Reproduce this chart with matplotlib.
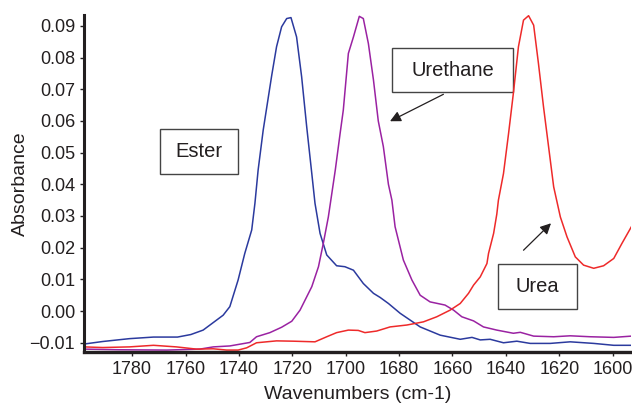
import matplotlib
matplotlib.use("Agg")
import matplotlib.pyplot as plt
from matplotlib.patches import Rectangle
from matplotlib.ticker import FuncFormatter

# Ester (blue) trace
ester_wn = [1798, 1791, 1781, 1772, 1763, 1758, 1753.4, 1745.9, 1743.4, 1740.3,
            1737.8, 1735.2, 1734.0, 1732.8, 1730.9, 1727.7, 1725.9, 1724.0, 1722.1,
            1720.5, 1718.4, 1716.5, 1714.6, 1712.7, 1711.5, 1709.6, 1707.1, 1703.4,
            1700.3, 1697.1, 1693.4, 1689.6, 1687.1, 1684.0, 1679.6, 1672.1, 1664.6,
            1657.1, 1652.7, 1649.6, 1645.9, 1640.9, 1635.9, 1630.9, 1623.4, 1615.9,
            1607.1, 1599.6, 1593.0]
ester_abs = [-0.0104, -0.0096, -0.0087, -0.0082, -0.0082, -0.0074, -0.0060, -0.0013,
             0.0014, 0.0098, 0.0182, 0.0256, 0.0340, 0.0445, 0.0571, 0.0744, 0.0834,
             0.0897, 0.0923, 0.0926, 0.0865, 0.0739, 0.0581, 0.0434, 0.0340, 0.0245,
             0.0177, 0.0143, 0.0140, 0.0129, 0.0087, 0.0056, 0.0043, 0.0024, -0.0007,
             -0.0050, -0.0076, -0.0089, -0.0083, -0.0091, -0.0089, -0.0100, -0.0095,
             -0.0102, -0.0102, -0.0097, -0.0102, -0.0108, -0.0108]

# Urethane (purple) trace
urethane_wn = [1798, 1785, 1767, 1754.6, 1749.6, 1743.4, 1735.9, 1733.4, 1728.4, 1724.0,
               1720.2, 1717.1, 1712.7, 1710.2, 1708.4, 1706.5, 1705.2, 1703.9, 1702.1,
               1700.9, 1699.0, 1697.1, 1694.9, 1693.4, 1691.5, 1689.6, 1687.8, 1685.9,
               1684.0, 1682.7, 1681.5, 1678.4, 1675.2, 1672.1, 1668.4, 1662.8, 1659.6,
               1656.5, 1652.1, 1648.4, 1643.4, 1637.2, 1634.6, 1629.6, 1622.1, 1615.9,
               1608.4, 1599.6, 1593.0]
urethane_abs = [-0.0120, -0.0122, -0.0123, -0.0120, -0.0113, -0.0110, -0.0099, -0.0081,
                -0.0068, -0.0051, -0.0032, 0.0003, 0.0077, 0.0140, 0.0213, 0.0297, 0.0371,
                0.0445, 0.0560, 0.0634, 0.0813, 0.0865, 0.0930, 0.0923, 0.0844, 0.0729,
                0.0600, 0.0519, 0.0400, 0.0350, 0.0266, 0.0161, 0.0098, 0.0050, 0.0029,
                0.0019, 0.0003, -0.0018, -0.0031, -0.0050, -0.0060, -0.0070, -0.0067,
                -0.0079, -0.0081, -0.0078, -0.0081, -0.0083, -0.0079]

# Urea (red) trace
urea_wn = [1798, 1791, 1781, 1772, 1763.4, 1755.9, 1749.6, 1744.6, 1740.3, 1737.1,
           1733.4, 1725.9, 1719.6, 1711.5, 1707.1, 1703.4, 1699.0, 1695.3, 1692.8,
           1688.4, 1685.3, 1683.4, 1677.1, 1670.9, 1665.9, 1660.9, 1657.1, 1654.0,
           1652.1, 1649.6, 1647.1, 1646.5, 1644.6, 1643.4, 1642.8, 1640.9, 1639.0,
           1637.2, 1635.3, 1633.4, 1631.5, 1629.6, 1627.8, 1625.9, 1624.0, 1622.1,
           1619.6, 1617.1, 1614.0, 1610.9, 1607.1, 1603.4, 1599.6, 1596.5, 1593.0]
urea_abs = [-0.0113, -0.0115, -0.0113, -0.0108, -0.0113, -0.0120, -0.0119, -0.0123,
            -0.0123, -0.0116, -0.0100, -0.0094, -0.0095, -0.0097, -0.0081, -0.0068,
            -0.0060, -0.0061, -0.0068, -0.0063, -0.0055, -0.0050, -0.0044, -0.0034,
            -0.0018, 0.0003, 0.0024, 0.0056, 0.0082, 0.0108, 0.0150, 0.0182, 0.0245,
            0.0306, 0.0350, 0.0434, 0.0560, 0.0687, 0.0834, 0.0918, 0.0932, 0.0902,
            0.0781, 0.0644, 0.0518, 0.0392, 0.0297, 0.0234, 0.0171, 0.0145, 0.0135,
            0.0143, 0.0166, 0.0214, 0.0266]

y_ticks = [-0.01, 0.0, 0.01, 0.02, 0.03, 0.04, 0.05, 0.06, 0.07, 0.08, 0.09]
x_ticks = [1780, 1760, 1740, 1720, 1700, 1680, 1660, 1640, 1620, 1600]

plt.rcParams["font.family"] = ["Liberation Sans", "DejaVu Sans"]
text_col = "#231f20"

fig = plt.figure(figsize=(6.32, 4.07), dpi=100)
ax = fig.add_axes([0.133, 0.136, 0.866, 0.827])

ax.plot(ester_wn, ester_abs, color="#2b3a9e", lw=1.1)
ax.plot(urethane_wn, urethane_abs, color="#9a22a2", lw=1.1)
ax.plot(urea_wn, urea_abs, color="#ee2a2a", lw=1.1)

ax.set_xlim(1798, 1593)
ax.set_ylim(-0.0128, 0.0934)
ax.set_xticks(x_ticks)
ax.set_yticks(y_ticks)
ax.yaxis.set_major_formatter(FuncFormatter(lambda v, p: f"{v:.2f}".replace("-", "\u2212")))

for side in ["top", "right"]:
    ax.spines[side].set_visible(False)
ax.spines["left"].set_linewidth(2.2)
ax.spines["bottom"].set_linewidth(2.4)
ax.spines["left"].set_color(text_col)
ax.spines["bottom"].set_color(text_col)
ax.tick_params(axis="both", direction="out", length=3, width=1, colors=text_col,
               labelsize=13, labelcolor=text_col)

ax.set_xlabel("Wavenumbers (cm-1)", fontsize=14, color=text_col, labelpad=6)
ax.set_ylabel("Absorbance", fontsize=14, color=text_col, labelpad=0)

# label boxes: (x_left, x_right, y_bottom, y_top)
boxes = [("Ester", 1769.6, 1740.5, 0.0434, 0.0576),
         ("Urethane", 1682.8, 1637.2, 0.0690, 0.0831),
         ("Urea", 1642.8, 1613.4, 0.0007, 0.0150)]
for label, x0, x1, y0, y1 in boxes:
    ax.add_patch(Rectangle((x0, y0), x1 - x0, y1 - y0, fill=False,
                           edgecolor="#444444", lw=1.0))
    ax.text((x0 + x1) / 2, (y0 + y1) / 2, label, ha="center", va="center",
            fontsize=14.5, color=text_col)

arrow_style = dict(arrowstyle="-|>", color=text_col, lw=0.9, mutation_scale=16,
                   shrinkA=0, shrinkB=0)
ax.annotate("", xy=(1683.4, 0.0599), xytext=(1663.4, 0.0684), arrowprops=arrow_style)
ax.annotate("", xy=(1623.1, 0.0277), xytext=(1633.4, 0.0192), arrowprops=arrow_style)

fig.savefig("out.png", dpi=100)
